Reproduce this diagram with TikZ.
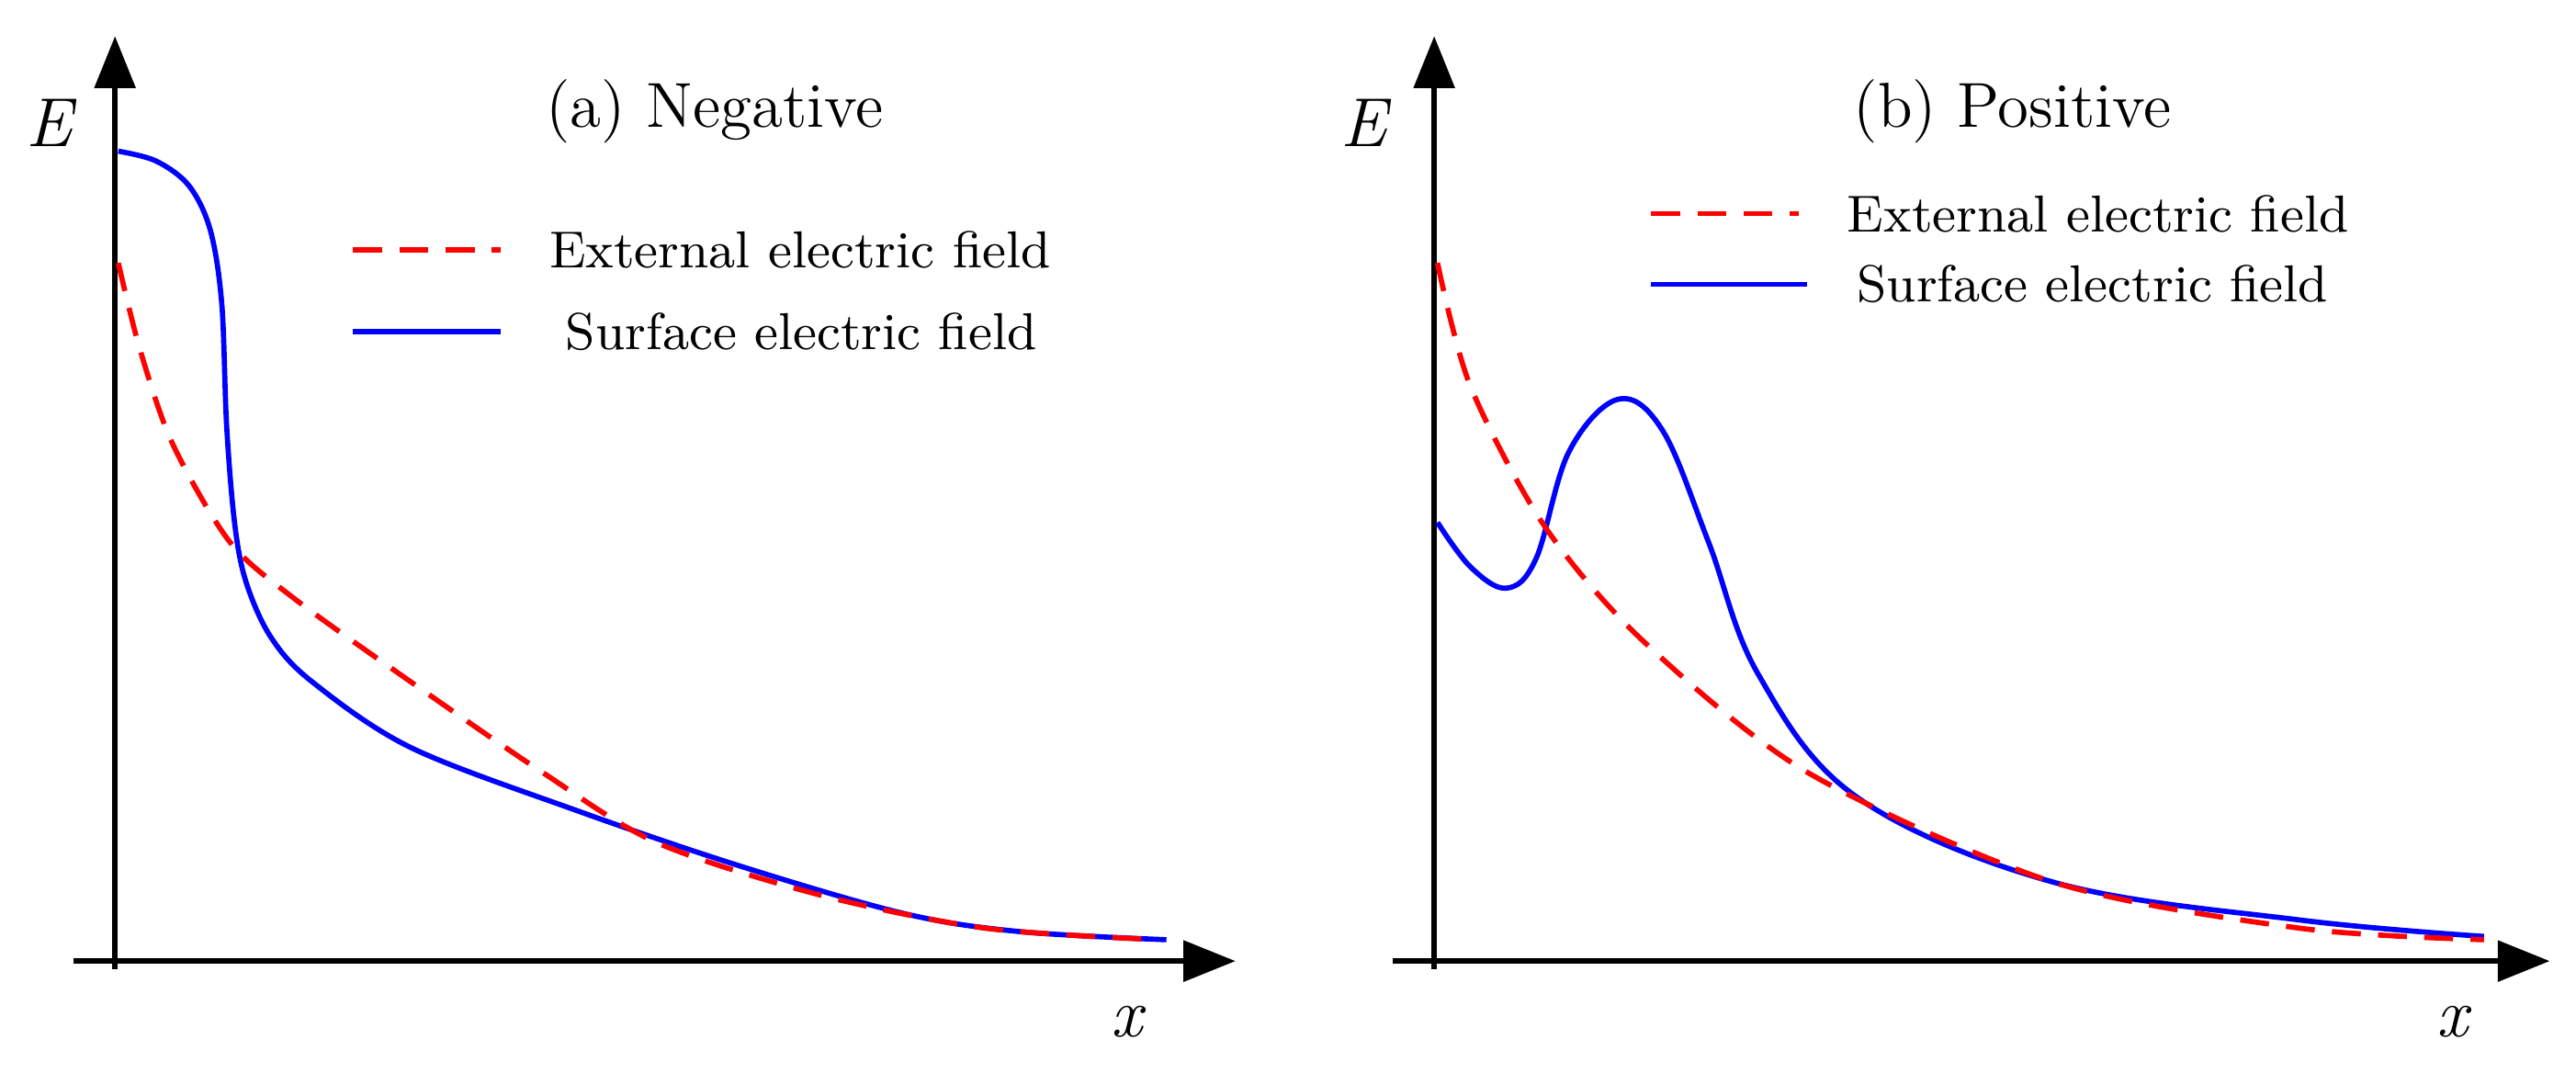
\documentclass[tikz,border=0pt]{standalone}
\usetikzlibrary{arrows.meta}
\begin{document}
\begin{tikzpicture}[x=0.01cm,y=-0.01cm,
  ax/.style={line width=0.9pt,-{Triangle[length=9pt,width=7pt]}},
  ext/.style={red,dashed,dash pattern=on 5pt off 3pt,line width=0.9pt},
  surf/.style={blue,line width=0.9pt},
  lbl/.style={font=\fontsize{12}{12}\selectfont\itshape},
  ttl/.style={font=\fontsize{11}{12}\selectfont},
  leg/.style={font=\fontsize{9}{10}\selectfont,anchor=west}]
\useasboundingbox (0,0) rectangle (1568,653);
% left
\coordinate (ay0) at (70,590); \coordinate (ay1) at (70,22);
\coordinate (ax0) at (45,585); \coordinate (ax1) at (752,585);
\draw[ax] (ay0) -- (ay1);
\draw[ax] (ax0) -- (ax1);
\node[lbl] (E1) at (30,75) {E};
\node[lbl] (X1) at (686,622) {x};
\node[ttl] (T1) at (435,68) {(a) Negative};
\draw[ext] (215,152) -- (305,152);
\node[leg] (L1) at (322,152) {External electric field};
\draw[surf] (215,202) -- (305,202);
\node[leg] (L2) at (332,202) {Surface electric field};
\draw[surf] plot[smooth,tension=0.55] coordinates {(72,92) (95,98) (115,113) (128,140) (135,185) (138,260) (143,320) (150,355) (165,388) (190,415) (250,455) (350,493) (450,527) (550,556) (620,567) (710,572)};
\draw[ext] plot[smooth] coordinates {(72,160) (85,212) (105,270) (140,330) (180,365) (250,415) (330,470) (400,513) (500,545) (600,565) (705,572)};
% right
\coordinate (by0) at (873,590); \coordinate (by1) at (873,22);
\coordinate (bx0) at (848,585); \coordinate (bx1) at (1552,585);
\draw[ax] (by0) -- (by1);
\draw[ax] (bx0) -- (bx1);
\node[lbl] (E2) at (830,75) {E};
\node[lbl] (X2) at (1493,622) {x};
\node[ttl] (T2) at (1225,68) {(b) Positive};
\draw[ext] (1005,130) -- (1095,130);
\node[leg] (L3) at (1112,130) {External electric field};
\draw[surf] (1005,173) -- (1100,173);
\node[leg] (L4) at (1118,173) {Surface electric field};
\draw[surf] plot[smooth,tension=0.6] coordinates {(875,318) (895,345) (917,358) (935,340) (955,275) (985,243) (1012,262) (1040,330) (1070,410) (1130,485) (1250,537) (1400,560) (1512,570)};
\draw[ext] plot[smooth] coordinates {(875,160) (895,235) (940,320) (1000,390) (1100,470) (1250,537) (1400,565) (1512,572)};
\end{tikzpicture}
\end{document}
